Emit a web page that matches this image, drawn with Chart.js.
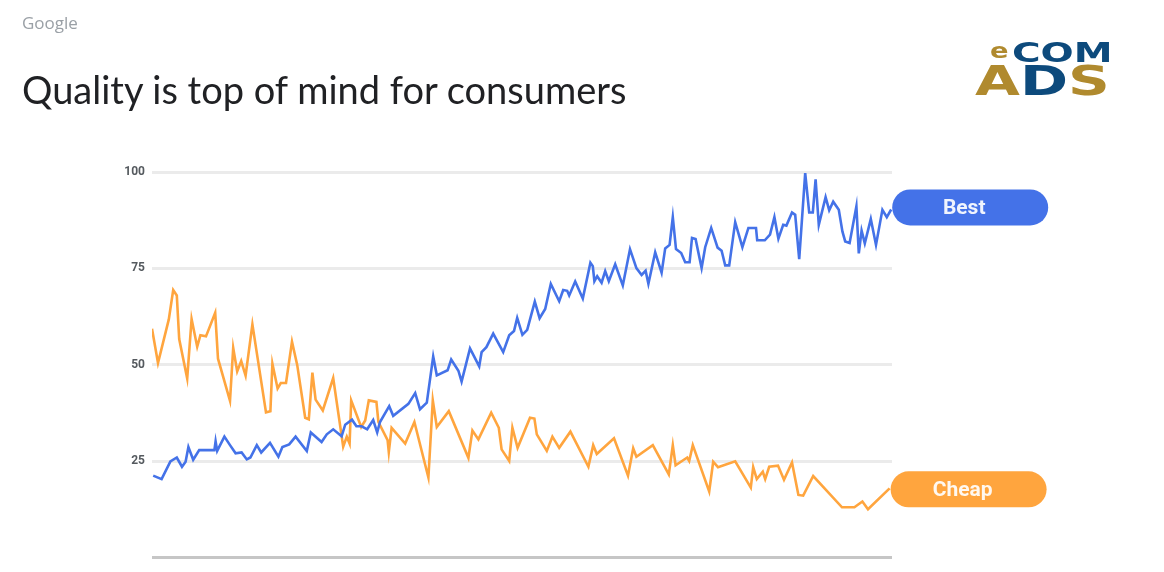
<!DOCTYPE html>
<html>
<head>
<meta charset="utf-8">
<script src="https://cdn.jsdelivr.net/npm/chart.js@4"></script>
<style>
  html, body { margin: 0; padding: 0; background: #fff; }
  body { width: 1164px; height: 572px; position: relative; overflow: hidden; font-family: Roboto, sans-serif; }
  #chart-wrap { position: absolute; left: 0; top: 0; width: 1164px; height: 572px; }
  .brand { position: absolute; left: 22px; top: 11px; font-size: 17px; color: #9aa0a6; font-family: "Open Sans", sans-serif; }
  .title { position: absolute; left: 22px; top: 70px; font-size: 38px; line-height: 1; color: #202124; font-family: Lato, sans-serif; }
  .logo { position: absolute; font-family: "DejaVu Sans", sans-serif; font-weight: bold; line-height: 1; white-space: nowrap; transform-origin: left top; }
  .logo-e { left: 990px; top: 41px; font-size: 21px; color: #b08a2e; transform: scaleX(1.3); }
  .logo-com { left: 1012px; top: 40px; font-size: 26px; color: #0d4a7c; transform: scaleX(1.5); }
  .logo-ads { left: 975px; top: 61px; font-size: 40px; transform: scaleX(1.45); }
  .gold { color: #b08a2e; }
  .navy { color: #0d4a7c; }
</style>
</head>
<body>
<div id="chart-wrap"><canvas id="trend-chart"></canvas></div>
<div class="brand">Google</div>
<div class="title">Quality is top of mind for consumers</div>
<div class="logo logo-e">e</div>
<div class="logo logo-com">COM</div>
<div class="logo logo-ads"><span class="gold">A</span><span class="navy">D</span><span class="gold">S</span></div>
<script>
// Search interest over time (weeks from start)
const bestWeeks = [0.3, 2.4, 4.6, 6.2, 7.5, 8.4, 9.1, 10.3, 11.8, 15.6, 15.9, 16.3, 18.1, 19.5, 20.9, 22.4, 23.7, 24.6, 26.2, 27.3,
  29.5, 31.6, 32.6, 34.3, 35.9, 38.7, 39.7, 42.4, 43.7, 45.3, 47.4, 48.3, 50.0, 51.1, 52.4, 53.8, 55.3, 56.3, 57.0, 59.3,
  60.3, 64.1, 65.8, 67.0, 68.7, 70.3, 71.2, 73.9, 74.8, 76.6, 77.4, 79.5, 81.8, 82.4, 83.6, 85.3, 87.8, 89.3, 90.5, 91.3,
  92.6, 93.8, 95.7, 96.9, 98.3, 99.7, 101.8, 102.8, 103.8, 104.3, 105.8, 107.7, 109.6, 110.2, 110.6, 111.3, 112.4, 113.3, 114.2, 115.8,
  117.7, 119.5, 121.1, 122.4, 123.4, 124.1, 125.8, 127.4, 128.3, 129.4, 130.2, 131.0, 132.3, 133.3, 134.4, 135.0, 135.9, 137.4, 138.3, 139.8,
  141.4, 142.4, 143.3, 144.3, 145.8, 147.6, 149.1, 151.0, 151.3, 153.2, 154.5, 155.6, 156.6, 157.8, 158.6, 160.0, 160.8, 161.8, 163.3, 164.3,
  165.2, 165.9, 166.7, 168.4, 169.3, 170.3, 171.7, 172.6, 173.3, 174.4, 176.1, 176.7, 177.4, 178.2, 179.7, 181.0, 182.6, 183.7, 184.8];
const bestValues = [21.3, 20.4, 25.0, 26.0, 23.6, 24.9, 28.7, 25.4, 27.9, 27.9, 30.2, 27.7, 31.4, 29.2, 27.1, 27.3, 25.5, 26.0, 29.2, 27.3,
  29.8, 26.2, 28.7, 29.4, 31.4, 27.7, 32.5, 30.0, 32.0, 33.3, 31.5, 34.5, 35.8, 34.1, 34.1, 33.3, 35.7, 32.5, 35.2, 39.3,
  36.8, 39.9, 42.7, 38.5, 40.2, 52.2, 47.3, 48.6, 51.4, 48.5, 45.7, 54.3, 49.6, 53.3, 54.6, 58.1, 53.3, 57.7, 58.8, 62.2,
  57.8, 59.1, 66.4, 62.1, 64.5, 71.0, 66.5, 69.4, 69.2, 68.0, 71.6, 67.2, 76.5, 75.6, 71.7, 73.0, 71.3, 74.3, 71.7, 76.1,
  70.6, 80.0, 75.1, 73.3, 74.4, 71.0, 79.2, 73.9, 80.2, 81.1, 88.3, 80.0, 79.0, 76.6, 76.6, 82.9, 82.6, 75.1, 80.5, 85.5,
  80.4, 79.6, 75.8, 75.8, 87.0, 80.5, 85.5, 85.5, 82.3, 82.3, 83.8, 88.3, 82.7, 86.3, 86.1, 89.5, 88.9, 77.4, 99.7, 89.5,
  89.5, 98.1, 86.3, 93.5, 90.1, 92.3, 90.2, 84.6, 82.0, 81.6, 91.1, 78.9, 84.8, 81.5, 87.8, 81.1, 90.2, 88.3, 90.3];

const cheapWeeks = [0, 1.5, 4.2, 5.3, 6.2, 6.8, 8.8, 9.9, 11.3, 12.1, 13.5, 15.8, 16.5, 19.5, 20.3, 21.3, 22.3, 23.4, 25.1, 28.5,
  29.6, 30.1, 31.4, 32.2, 33.5, 35.0, 36.3, 38.3, 39.2, 40.1, 40.9, 42.7, 45.3, 47.8, 48.7, 49.4, 49.8, 52.3, 53.3, 54.2,
  56.1, 56.6, 58.9, 59.2, 59.9, 63.3, 65.6, 69.1, 70.2, 71.2, 74.2, 79.1, 80.1, 81.6, 84.8, 86.7, 87.4, 89.3, 90.1, 91.4,
  94.5, 95.6, 96.2, 98.7, 100.1, 101.8, 104.6, 109.1, 110.3, 111.2, 115.5, 119.0, 120.3, 121.1, 125.2, 129.2, 130.2, 130.9, 133.8, 134.3,
  135.2, 139.3, 140.3, 141.5, 145.8, 149.7, 150.3, 151.2, 152.7, 153.3, 154.3, 156.5, 158.0, 160.0, 161.6, 162.8, 165.3, 172.5, 175.6, 177.6,
  179.0, 184.4];
const cheapValues = [59.4, 50.5, 61.8, 69.4, 68.0, 56.7, 46.5, 61.9, 54.7, 57.7, 57.4, 63.5, 51.6, 40.7, 54.4, 48.3, 51.0, 47.2, 60.5, 37.7,
  38.0, 50.3, 43.9, 45.3, 45.3, 56.0, 50.0, 36.3, 35.9, 48.0, 41.0, 38.2, 46.6, 28.8, 31.4, 29.6, 40.8, 33.9, 35.6, 40.8,
  40.4, 35.2, 30.5, 27.4, 33.7, 29.6, 35.2, 20.8, 40.8, 33.9, 38.0, 25.9, 33.0, 30.7, 37.6, 33.7, 28.1, 25.1, 33.7, 28.5,
  36.3, 36.1, 32.0, 27.7, 31.4, 28.5, 32.7, 23.6, 29.2, 26.9, 31.0, 21.3, 28.4, 26.2, 29.2, 21.6, 29.2, 24.0, 26.0, 25.1,
  29.2, 17.2, 24.9, 23.5, 25.0, 18.2, 23.5, 20.4, 22.3, 20.4, 23.6, 23.9, 20.2, 24.7, 16.3, 16.1, 21.2, 13.1, 13.1, 14.6,
  12.6, 18.0];

const yTicks = [0, 25, 50, 75, 100];
const seriesNames = ["Best", "Cheap"];
const seriesColors = ["#4472e8", "#ffa53e"];

function toPoints(xs, ys) {
  return xs.map((x, i) => ({ x: x, y: ys[i] }));
}

// Rounded label at the end of each line
const endLabels = {
  id: "endLabels",
  afterDatasetsDraw(chart) {
    const ctx = chart.ctx;
    const nudge = [-2, 1];
    chart.data.datasets.forEach((ds, i) => {
      const meta = chart.getDatasetMeta(i);
      const last = meta.data[meta.data.length - 1];
      const w = 156, h = 36, r = 18;
      const x = last.x + 1;
      const y = last.y - h / 2 + nudge[i];
      ctx.save();
      ctx.fillStyle = ds.borderColor;
      ctx.beginPath();
      ctx.roundRect(x, y, w, h, r);
      ctx.fill();
      ctx.fillStyle = "rgba(255,255,255,0.92)";
      ctx.font = "bold 21px Roboto";
      ctx.textAlign = "center";
      ctx.textBaseline = "middle";
      ctx.fillText(ds.label, x + w / 2 - 6, y + h / 2 + 1);
      ctx.restore();
    });
  },
};

const ctx = document.getElementById("trend-chart").getContext("2d");
const trendChart = new Chart(ctx, {
  type: "line",
  data: {
    datasets: [
      {
        label: seriesNames[0],
        data: toPoints(bestWeeks, bestValues),
        borderColor: seriesColors[0],
        borderWidth: 2.6,
        pointRadius: 0,
        tension: 0,
      },
      {
        label: seriesNames[1],
        data: toPoints(cheapWeeks, cheapValues),
        borderColor: seriesColors[1],
        borderWidth: 2.6,
        pointRadius: 0,
        tension: 0,
      },
    ],
  },
  options: {
    responsive: true,
    maintainAspectRatio: false,
    animation: false,
    layout: {
      padding: { left: 100, right: 272, top: 172, bottom: 12 },
    },
    plugins: {
      legend: { display: false },
      tooltip: { enabled: false },
    },
    scales: {
      x: {
        type: "linear",
        min: 0,
        max: 185,
        display: false,
      },
      y: {
        min: 0,
        max: 100,
        afterFit: (scale) => {
          scale.width = 52;
        },
        afterBuildTicks: (scale) => {
          scale.ticks = yTicks.map((v) => ({ value: v }));
        },
        border: { display: false },
        grid: {
          drawTicks: false,
          color: (c) => (c.tick && c.tick.value === 0 ? "#c6c6c6" : "#ebebeb"),
          lineWidth: 3,
        },
        ticks: {
          padding: 7,
          color: "#555a5f",
          font: { family: "Roboto", size: 12, weight: "bold" },
          callback: (v) => (v === 0 ? "" : v),
        },
      },
    },
  },
  plugins: [endLabels],
});
</script>
</body>
</html>
